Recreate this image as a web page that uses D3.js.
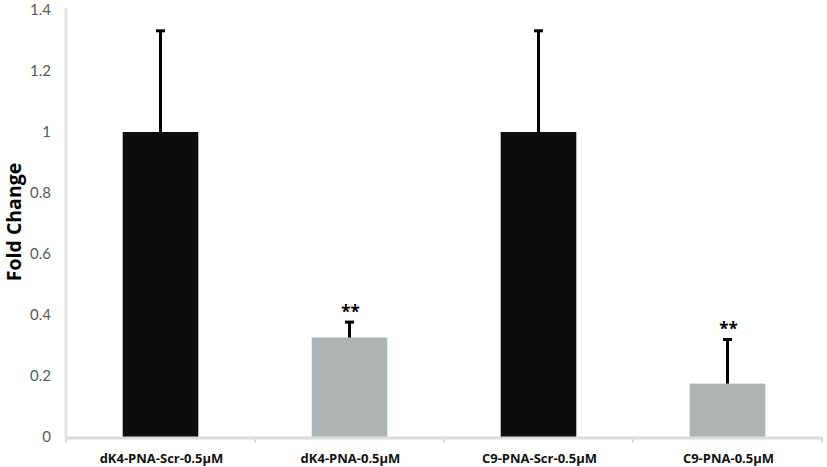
<!DOCTYPE html>
<html>
<head>
<meta charset="utf-8">
<script src="https://cdn.jsdelivr.net/npm/d3@7"></script>
<style>
  body { margin: 0; background: #fff; }
  svg { display: block; font-family: Lato, "Open Sans", sans-serif; }
</style>
</head>
<body>
<div id="chart-container"></div>
<script>
// chart data
var categories = ["dK4-PNA-Scr-0.5μM", "dK4-PNA-0.5μM", "C9-PNA-Scr-0.5μM", "C9-PNA-0.5μM"];
var values = [1, 0.326, 1, 0.175];
var errors = [0.335, 0.054, 0.335, 0.148];
var marks = ["", "**", "", "**"];
var barColors = ["#0d0d0d", "#aeb3b3", "#0d0d0d", "#aeb3b3"];
var yTicks = [0, 0.2, 0.4, 0.6, 0.8, 1, 1.2, 1.4];

var dataset = categories.map(function(c, i){
    return {name: c, value: values[i], err: errors[i], mark: marks[i], color: barColors[i]};
});

var w = 827;
var h = 467;
var left = 66;
var right = 822;
var y0 = 437;
var yTop = 10;

var xScale = d3.scaleBand()
    .range([left, right])
    .padding(0)
    .domain(categories);

var yScale = d3.scaleLinear()
    .domain([0, 1.4])
    .range([y0, yTop]);

var barW = xScale.bandwidth() * 0.4;

var svg = d3.select("#chart-container").append("svg")
    .attr("width", w).attr("height", h);

// y axis line
svg.append("line")
    .attr("x1", left).attr("x2", left)
    .attr("y1", 8).attr("y2", y0)
    .attr("stroke", "#e3e3e3").attr("stroke-width", 3);

// y tick labels
svg.append("g").selectAll("text")
    .data(yTicks)
    .enter()
    .append("text")
    .attr("x", 51)
    .attr("y", function(d){ return yScale(d); })
    .attr("dy", "0.35em")
    .attr("text-anchor", "end")
    .attr("fill", "#595959")
    .style("font-size", "15px")
    .text(function(d){ return d3.format("")(d); });

// bars
svg.selectAll("rect.bar")
    .data(dataset)
    .enter()
    .append("rect")
    .attr("class", "bar")
    .attr("x", function(d){ return xScale(d.name) + (xScale.bandwidth() - barW) / 2; })
    .attr("y", function(d){ return yScale(d.value); })
    .attr("width", barW)
    .attr("height", function(d){ return yScale(0) - yScale(d.value); })
    .attr("fill", function(d){ return d.color; });

// x axis line and ticks
svg.append("line")
    .attr("x1", left).attr("x2", right)
    .attr("y1", y0 + 1).attr("y2", y0 + 1)
    .attr("stroke", "#dcdcdc").attr("stroke-width", 3);

var bounds = categories.map(function(c){ return xScale(c); }).concat([right]);
svg.append("g").selectAll("line")
    .data(bounds)
    .enter()
    .append("line")
    .attr("x1", function(d){ return d; }).attr("x2", function(d){ return d; })
    .attr("y1", y0).attr("y2", y0 + 6)
    .attr("stroke", "#dcdcdc").attr("stroke-width", 2);

// error bars
var eb = svg.append("g").selectAll("g")
    .data(dataset)
    .enter()
    .append("g");

eb.append("line")
    .attr("x1", function(d){ return xScale(d.name) + xScale.bandwidth() / 2; })
    .attr("x2", function(d){ return xScale(d.name) + xScale.bandwidth() / 2; })
    .attr("y1", function(d){ return yScale(d.value); })
    .attr("y2", function(d){ return yScale(d.value + d.err); })
    .attr("stroke", "#000").attr("stroke-width", 3);

eb.append("line")
    .attr("x1", function(d){ return xScale(d.name) + xScale.bandwidth() / 2 - 4.5; })
    .attr("x2", function(d){ return xScale(d.name) + xScale.bandwidth() / 2 + 4.5; })
    .attr("y1", function(d){ return yScale(d.value + d.err) + 1; })
    .attr("y2", function(d){ return yScale(d.value + d.err) + 1; })
    .attr("stroke", "#000").attr("stroke-width", 3);

// significance marks
eb.append("text")
    .attr("x", function(d){ return xScale(d.name) + xScale.bandwidth() / 2 + 1; })
    .attr("y", function(d){ return yScale(d.value + d.err) - 3; })
    .attr("text-anchor", "middle")
    .style("font-family", "'Open Sans', sans-serif")
    .style("font-size", "17px")
    .style("font-weight", "bold")
    .text(function(d){ return d.mark; });

// category labels
svg.append("g").selectAll("text")
    .data(categories)
    .enter()
    .append("text")
    .attr("x", function(d){ return xScale(d) + xScale.bandwidth() / 2 + 1; })
    .attr("y", 463)
    .attr("text-anchor", "middle")
    .attr("fill", "#111")
    .style("font-family", "'Open Sans', sans-serif")
    .style("font-size", "13px")
    .style("font-weight", "bold")
    .text(function(d){ return d; });

// y axis title
svg.append("text")
    .attr("transform", "translate(21,222) rotate(-90)")
    .attr("text-anchor", "middle")
    .attr("fill", "#000")
    .style("font-family", "'Open Sans', sans-serif")
    .style("font-size", "19.5px")
    .style("font-weight", "bold")
    .text("Fold Change");
</script>
</body>
</html>
